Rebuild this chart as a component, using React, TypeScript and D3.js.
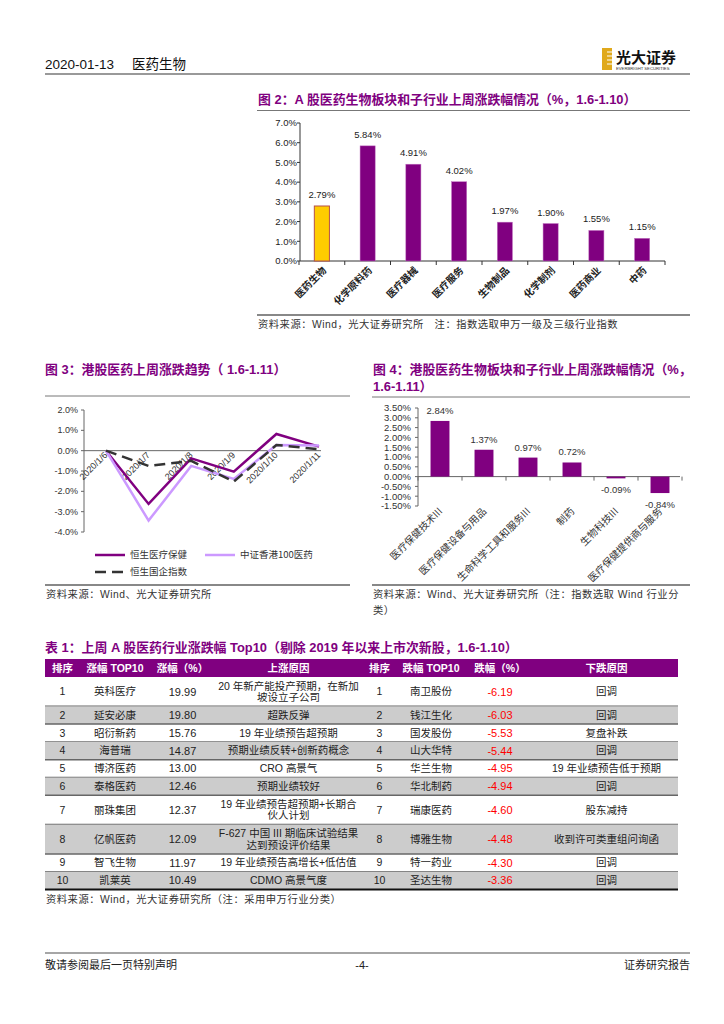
import React from "react";
import * as d3 from "d3";

// ---------- Data ----------
const fig2Categories = ["医药生物", "化学原料药", "医疗器械", "医疗服务", "生物制品", "化学制剂", "医药商业", "中药"];
const fig2Values = [2.79, 5.84, 4.91, 4.02, 1.97, 1.9, 1.55, 1.15];
const fig2Ticks = [0, 1, 2, 3, 4, 5, 6, 7];

const fig3Dates = ["2020/1/6", "2020/1/7", "2020/1/8", "2020/1/9", "2020/1/10", "2020/1/11"];
const fig3Hshc = [0, -2.62, -0.38, -1.03, 0.82, 0.2];
const fig3Csi = [0, -3.44, -0.75, -1.39, 0.28, 0.25];
const fig3Hscei = [0, -0.75, -0.5, -1.52, 0.28, 0.07];
const fig3SeriesNames = ["恒生医疗保健", "中证香港100医药", "恒生国企指数"];
const fig3Ticks = [2, 1, 0, -1, -2, -3, -4];

const fig4Categories = ["医疗保健技术III", "医疗保健设备与用品", "生命科学工具和服务III", "制药", "生物科技III", "医疗保健提供商与服务"];
const fig4Values = [2.84, 1.37, 0.97, 0.72, -0.09, -0.84];
const fig4Ticks = [3.5, 3, 2.5, 2, 1.5, 1, 0.5, 0, -0.5, -1, -1.5];

const tableHeaders = ["排序", "涨幅 TOP10", "涨幅（%）", "上涨原因", "排序", "跌幅 TOP10", "跌幅（%）", "下跌原因"];
const upNames = ["英科医疗", "延安必康", "昭衍新药", "海普瑞", "博济医药", "泰格医药", "丽珠集团", "亿帆医药", "智飞生物", "凯莱英"];
const upValues = [19.99, 19.8, 15.76, 14.87, 13.0, 12.46, 12.37, 12.09, 11.97, 10.49];
const upReasons = [
  "20 年新产能投产预期，在新加\n坡设立子公司",
  "超跌反弹",
  "19 年业绩预告超预期",
  "预期业绩反转+创新药概念",
  "CRO 高景气",
  "预期业绩较好",
  "19 年业绩预告超预期+长期合\n伙人计划",
  "F-627 中国 III 期临床试验结果\n达到预设评价结果",
  "19 年业绩预告高增长+低估值",
  "CDMO 高景气度",
];
const downNames = ["南卫股份", "钱江生化", "国发股份", "山大华特", "华兰生物", "华北制药", "瑞康医药", "博雅生物", "特一药业", "圣达生物"];
const downValues = [-6.19, -6.03, -5.53, -5.44, -4.95, -4.94, -4.6, -4.48, -4.3, -3.36];
const downReasons = ["回调", "回调", "复盘补跌", "回调", "19 年业绩预告低于预期", "回调", "股东减持", "收到许可类重组问询函", "回调", "回调"];

const PURPLE = "#800080";
const FONT = "'Liberation Sans', Arial, 'Noto Sans CJK SC', sans-serif";
const CJK = "'Noto Sans CJK SC', 'Liberation Sans', sans-serif";
const TITLE_SIZE = 12.9;
const SRC_SIZE = 10.3;
const SRC_SPACING = 0.5;

function Fig2() {
  const x = d3.scaleBand<string>().domain(fig2Categories).range([299, 665]).paddingInner(0.67).paddingOuter(0.335);
  const y = d3.scaleLinear().domain([0, 7]).range([261, 123]);
  const step = x.step();
  return (
    <g>
      <text x={258} y={104} fill={PURPLE} fontSize={TITLE_SIZE} fontWeight="bold" fontFamily={FONT}>
        图 2：A 股医药生物板块和子行业上周涨跌幅情况（%，1.6-1.10）
      </text>
      <line x1={257} x2={690} y1={110.5} y2={110.5} stroke="#777" strokeWidth={1} />
      {fig2Ticks.map((t) => (
        <g key={t}>
          <text x={297} y={y(t)} dy="0.35em" textAnchor="end" fontSize={9.5} fontFamily={FONT} fill="#222">
            {t.toFixed(1)}%
          </text>
          <line x1={297} x2={300} y1={y(t)} y2={y(t)} stroke="#333" />
        </g>
      ))}
      <line x1={300} x2={300} y1={y(7)} y2={y(0)} stroke="#333" />
      <line x1={300} x2={665} y1={y(0)} y2={y(0)} stroke="#333" />
      {d3.range(fig2Categories.length + 1).map((i) => (
        <line key={i} x1={299 + step * i} x2={299 + step * i} y1={y(0)} y2={y(0) + 4} stroke="#333" />
      ))}
      {fig2Categories.map((c, i) => {
        const cx = (x(c) as number) + x.bandwidth() / 2;
        return (
          <g key={c}>
            <rect
              x={x(c)}
              y={y(fig2Values[i])}
              width={x.bandwidth()}
              height={y(0) - y(fig2Values[i])}
              fill={i === 0 ? "#FFCC00" : PURPLE}
              stroke={i === 0 ? "#B5504A" : "#C070C0"}
              strokeWidth={i === 0 ? 1 : 0.5}
            />
            <text x={cx} y={y(fig2Values[i]) - 8} textAnchor="middle" fontSize={9.5} fontFamily={FONT} fill="#222">
              {fig2Values[i].toFixed(2)}%
            </text>
            <text
              transform={`translate(${cx + 5},${y(0) + 10}) rotate(-45)`}
              textAnchor="end"
              fontSize={9.8}
              fontWeight="bold"
              fontFamily={CJK}
              fill="#222"
            >
              {c}
            </text>
          </g>
        );
      })}
      <line x1={257} x2={690} y1={315} y2={315} stroke="#888" strokeWidth={2} />
      <text x={258} y={328} fontSize={SRC_SIZE} letterSpacing={SRC_SPACING} fontFamily={FONT} fill="#333">
        资料来源：Wind，光大证券研究所　注：指数选取申万一级及三级行业指数
      </text>
    </g>
  );
}

function Fig3() {
  const x = d3.scalePoint<string>().domain(fig3Dates).range([106, 319]);
  const y = d3.scaleLinear().domain([-4, 2]).range([532, 410]);
  const line = d3
    .line<number>()
    .x((_, i) => x(fig3Dates[i]) as number)
    .y((d) => y(d));
  const series = [
    { vals: fig3Hshc, color: PURPLE, dash: undefined },
    { vals: fig3Csi, color: "#CC99FF", dash: undefined },
    { vals: fig3Hscei, color: "#333", dash: "11,6" },
  ];
  return (
    <g>
      <text x={45} y={374} fill={PURPLE} fontSize={TITLE_SIZE} fontWeight="bold" fontFamily={FONT}>
        图 3：港股医药上周涨跌趋势（ 1.6-1.11）
      </text>
      <line x1={45} x2={350} y1={396} y2={396} stroke="#777" strokeWidth={1} />
      {fig3Ticks.map((t) => (
        <g key={t}>
          <text x={78} y={y(t)} dy="0.35em" textAnchor="end" fontSize={9} fontFamily={FONT} fill="#333">
            {t.toFixed(1)}%
          </text>
          <line x1={81} x2={84} y1={y(t)} y2={y(t)} stroke="#666" />
        </g>
      ))}
      <line x1={84} x2={84} y1={y(2)} y2={y(-4)} stroke="#666" />
      <line x1={84} x2={321} y1={y(0)} y2={y(0)} stroke="#666" />
      {fig3Dates.map((d) => (
        <text
          key={d}
          transform={`translate(${(x(d) as number) + 2},${y(0) + 5}) rotate(-45)`}
          textAnchor="end"
          fontSize={9}
          fontFamily={FONT}
          fill="#333"
        >
          {d}
        </text>
      ))}
      {series.map((s, i) => (
        <path key={i} d={line(s.vals) as string} fill="none" stroke={s.color} strokeWidth={2.5} strokeDasharray={s.dash} />
      ))}
      {/* legend */}
      <line x1={95} x2={125} y1={555} y2={555} stroke={PURPLE} strokeWidth={2.5} />
      <text x={130} y={555} dy="0.35em" fontSize={9.5} fontFamily={CJK} fill="#333">{fig3SeriesNames[0]}</text>
      <line x1={205} x2={235} y1={555} y2={555} stroke="#CC99FF" strokeWidth={2.5} />
      <text x={240} y={555} dy="0.35em" fontSize={9.5} fontFamily={CJK} fill="#333">{fig3SeriesNames[1]}</text>
      <line x1={95} x2={125} y1={572} y2={572} stroke="#333" strokeWidth={2.5} strokeDasharray="11,6" />
      <text x={130} y={572} dy="0.35em" fontSize={9.5} fontFamily={CJK} fill="#333">{fig3SeriesNames[2]}</text>
      <line x1={45} x2={350} y1={585} y2={585} stroke="#888" strokeWidth={2} />
      <text x={46} y={598} fontSize={SRC_SIZE} letterSpacing={SRC_SPACING} fontFamily={FONT} fill="#333">
        资料来源：Wind、光大证券研究所
      </text>
    </g>
  );
}

function Fig4() {
  const x = d3.scaleBand<string>().domain(fig4Categories).range([418, 682]).paddingInner(0.57).paddingOuter(0.285);
  const y = d3.scaleLinear().domain([-1.5, 3.5]).range([506, 408]);
  const step = x.step();
  return (
    <g>
      <text x={373} y={374} fill={PURPLE} fontSize={TITLE_SIZE} fontWeight="bold" fontFamily={FONT}>
        图 4：港股医药生物板块和子行业上周涨跌幅情况（%，
      </text>
      <text x={373} y={391} fill={PURPLE} fontSize={TITLE_SIZE} fontWeight="bold" fontFamily={FONT}>
        1.6-1.11）
      </text>
      <line x1={372} x2={690} y1={397} y2={397} stroke="#777" strokeWidth={1} />
      {fig4Ticks.map((t) => (
        <g key={t}>
          <text x={411} y={y(t)} dy="0.35em" textAnchor="end" fontSize={9.5} fontFamily={FONT} fill="#333">
            {t.toFixed(2)}%
          </text>
          <line x1={415} x2={418} y1={y(t)} y2={y(t)} stroke="#666" />
        </g>
      ))}
      <line x1={418} x2={418} y1={y(3.5)} y2={y(-1.5)} stroke="#666" />
      <line x1={418} x2={680} y1={y(0)} y2={y(0)} stroke="#666" />
      {d3.range(fig4Categories.length + 1).map((i) => (
        <line key={i} x1={418 + step * i} x2={418 + step * i} y1={y(0)} y2={y(0) + 4} stroke="#666" />
      ))}
      {fig4Categories.map((c, i) => {
        const v = fig4Values[i];
        const cx = (x(c) as number) + x.bandwidth() / 2;
        return (
          <g key={c}>
            <rect
              x={x(c)}
              y={y(Math.max(0, v))}
              width={x.bandwidth()}
              height={Math.abs(y(v) - y(0))}
              fill={PURPLE}
            />
            <text
              x={cx}
              y={v >= 0 ? y(v) - 7 : y(v) + 15}
              textAnchor="middle"
              fontSize={9.5}
              fontFamily={FONT}
              fill="#333"
            >
              {v.toFixed(2)}%
            </text>
            <text
              transform={`translate(${cx + 3},${y(-1.5) + 6}) rotate(-45)`}
              textAnchor="end"
              fontSize={10}
              fontFamily={CJK}
              fill="#333"
            >
              {c}
            </text>
          </g>
        );
      })}
      <line x1={372} x2={690} y1={585} y2={585} stroke="#888" strokeWidth={2} />
      <text x={373} y={598} fontSize={SRC_SIZE} letterSpacing={SRC_SPACING} fontFamily={FONT} fill="#333">
        资料来源：Wind、光大证券研究所（注：指数选取 Wind 行业分
      </text>
      <text x={373} y={614} fontSize={SRC_SIZE} letterSpacing={SRC_SPACING} fontFamily={FONT} fill="#333">
        类）
      </text>
    </g>
  );
}

function Table1() {
  const colBounds = [45, 80, 150, 215, 362, 397, 465, 535, 678];
  const colCenters = colBounds.slice(0, -1).map((b, i) => (b + colBounds[i + 1]) / 2);
  const headerTop = 659;
  const headerBottom = 677;
  const lineH = 11.5;
  const rows = upNames.map((_, i) => {
    const upLines = upReasons[i].split("\n");
    const downLines = downReasons[i].split("\n");
    const n = Math.max(upLines.length, downLines.length);
    return { n, upLines, downLines, h: n === 1 ? 17.8 : 29.3 };
  });
  let yCur = headerBottom;
  const rowPos = rows.map((r) => {
    const top = yCur;
    yCur += r.h;
    return { top, bottom: yCur };
  });
  const tableBottom = yCur;
  const txt = (x: number, y: number, s: string, color = "#222", font = CJK, size = 10.5) => (
    <text x={x} y={y} dy="0.35em" textAnchor="middle" fontSize={size} fontFamily={font} fill={color}>
      {s}
    </text>
  );
  return (
    <g>
      <text x={45} y={652} fill={PURPLE} fontSize={TITLE_SIZE} fontWeight="bold" fontFamily={FONT}>
        表 1：上周 A 股医药行业涨跌幅 Top10（剔除 2019 年以来上市次新股，1.6-1.10）
      </text>
      <rect x={45} y={headerTop} width={678 - 45} height={headerBottom - headerTop} fill={PURPLE} />
      {tableHeaders.map((h, i) => (
        <text
          key={i}
          x={colCenters[i]}
          y={(headerTop + headerBottom) / 2}
          dy="0.35em"
          textAnchor="middle"
          fontSize={10.5}
          fontWeight="bold"
          fontFamily={FONT}
          fill="#fff"
        >
          {h}
        </text>
      ))}
      {rows.map((r, i) => {
        const { top, bottom } = rowPos[i];
        const mid = (top + bottom) / 2;
        return (
          <g key={i}>
            {i % 2 === 1 && <rect x={45} y={top} width={678 - 45} height={bottom - top} fill="#CCCCCC" />}
            {txt(colCenters[0], mid, String(i + 1), "#222", FONT)}
            {txt(colCenters[1], mid, upNames[i])}
            {txt(colCenters[2], mid, upValues[i].toFixed(2), "#222", FONT, 11)}
            {r.upLines.map((l, k) =>
              <g key={k}>{txt(colCenters[3], mid + (k - (r.upLines.length - 1) / 2) * lineH, l, "#222", FONT)}</g>
            )}
            {txt(colCenters[4], mid, String(i + 1), "#222", FONT)}
            {txt(colCenters[5], mid, downNames[i])}
            {txt(colCenters[6], mid, downValues[i].toFixed(2), "#FF0000", FONT, 11)}
            {r.downLines.map((l, k) =>
              <g key={k}>{txt(colCenters[7], mid + (k - (r.downLines.length - 1) / 2) * lineH, l, "#222", FONT)}</g>
            )}
            {i < rows.length - 1 && (
              <line x1={45} x2={678} y1={bottom} y2={bottom} stroke="#666" strokeWidth={1.5} />
            )}
          </g>
        );
      })}
      <line x1={45} x2={678} y1={tableBottom} y2={tableBottom} stroke="#111" strokeWidth={2} />
      <text x={46} y={903} fontSize={SRC_SIZE} letterSpacing={SRC_SPACING} fontFamily={FONT} fill="#333">
        资料来源：Wind，光大证券研究所（注：采用申万行业分类）
      </text>
    </g>
  );
}

function PageChrome() {
  return (
    <g>
      <text x={45} y={69} fontSize={13.5} fontFamily={FONT} fill="#111">
        2020-01-13
      </text>
      <text x={132} y={69} fontSize={13.5} fontFamily={CJK} fill="#111">
        医药生物
      </text>
      <line x1={45} x2={690} y1={74} y2={74} stroke="#777" strokeWidth={1.5} />
      <rect x={602} y={48} width={10} height={22} fill="#E0A91C" />
      {[52, 56, 60, 64].map((yy) => (
        <line key={yy} x1={607} x2={612} y1={yy} y2={yy} stroke="#fff" strokeWidth={1} />
      ))}
      <text x={616} y={63} fontSize={15} fontWeight="bold" fontFamily={CJK} fill="#111">
        光大证券
      </text>
      <text x={616} y={70} fontSize={4.2} fontFamily={FONT} fill="#333">
        EVERBRIGHT SECURITIES
      </text>
      <line x1={45} x2={690} y1={953} y2={953} stroke="#888" strokeWidth={1.5} />
      <text x={45} y={969} fontSize={11} fontFamily={CJK} fill="#222">
        敬请参阅最后一页特别声明
      </text>
      <text x={362} y={969} textAnchor="middle" fontSize={11} fontFamily={FONT} fill="#222">
        -4-
      </text>
      <text x={690} y={969} textAnchor="end" fontSize={11} fontFamily={CJK} fill="#222">
        证券研究报告
      </text>
    </g>
  );
}

export default function App() {
  return (
    <svg
      width={724}
      height={1024}
      viewBox="0 0 724 1024"
      style={{ position: "absolute", left: 0, top: 0, background: "#fff" }}
    >
      <rect width={724} height={1024} fill="#fff" />
      <PageChrome />
      <Fig2 />
      <Fig3 />
      <Fig4 />
      <Table1 />
    </svg>
  );
}
